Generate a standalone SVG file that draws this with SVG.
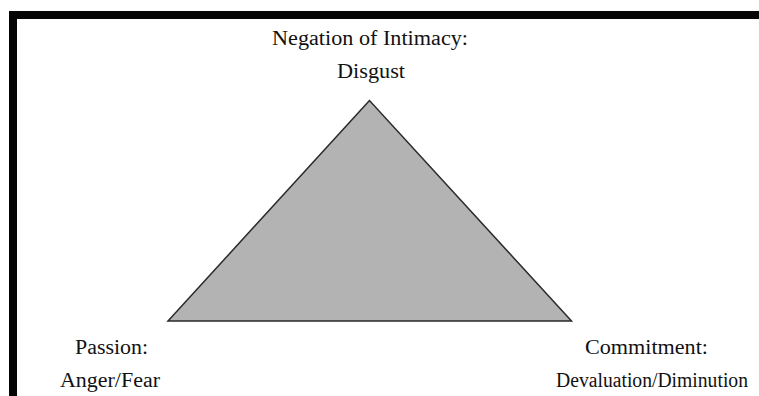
<svg xmlns="http://www.w3.org/2000/svg" width="759" height="396" viewBox="0 0 759 396">
  <style>
    .lbl { font-family: "Liberation Serif", "Times New Roman", serif; font-size: 20.5px; fill: #111; text-anchor: middle; }
    .frame { fill: #050505; }
  </style>
  <rect x="0" y="0" width="759" height="396" fill="#ffffff"/>
  <g id="frame">
    <rect class="frame" x="9" y="11" width="750" height="8"/>
    <rect class="frame" x="9" y="11" width="8" height="385"/>
  </g>
  <g id="triangle">
    <polygon points="369.5,100.5 168,321 571.5,321" fill="#b3b3b3" stroke="#2a2a2a" stroke-width="1.5" stroke-linejoin="miter"/>
  </g>
  <g id="intimacy">
    <text class="lbl" x="370" y="45" textLength="196" lengthAdjust="spacingAndGlyphs">Negation of Intimacy:</text>
    <text class="lbl" x="371" y="78" textLength="68" lengthAdjust="spacingAndGlyphs">Disgust</text>
  </g>
  <g id="passion">
    <text class="lbl" x="111.5" y="354" textLength="73" lengthAdjust="spacingAndGlyphs">Passion:</text>
    <text class="lbl" x="110" y="387" textLength="100" lengthAdjust="spacingAndGlyphs">Anger/Fear</text>
  </g>
  <g id="commitment">
    <text class="lbl" x="646.5" y="354" textLength="123" lengthAdjust="spacingAndGlyphs">Commitment:</text>
    <text class="lbl" x="652" y="387" textLength="192" lengthAdjust="spacingAndGlyphs">Devaluation/Diminution</text>
  </g>
  <g id="connectors"></g>
</svg>
